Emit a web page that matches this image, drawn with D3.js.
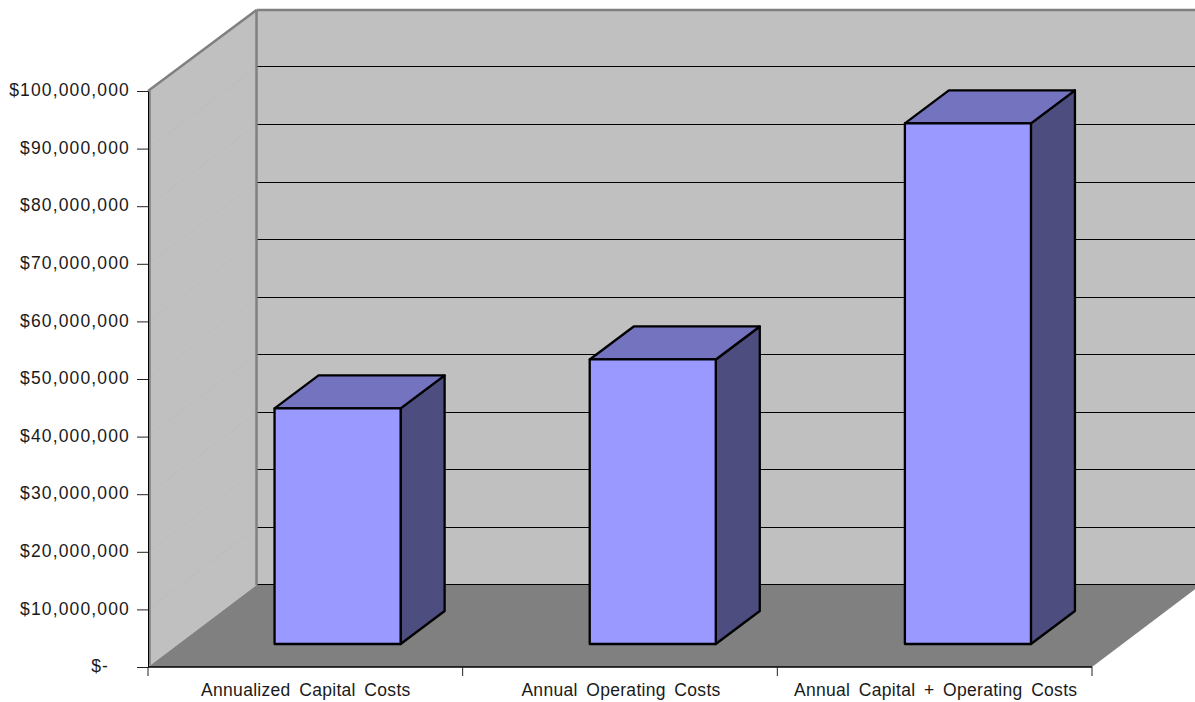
<!DOCTYPE html>
<html><head><meta charset="utf-8">
<style>html,body{margin:0;padding:0;background:#fff}svg{display:block}text{font-family:"Liberation Sans",Arial,sans-serif;font-size:17.5px;fill:#1a1a1a}</style>
<script src="https://cdnjs.cloudflare.com/ajax/libs/d3/7.8.5/d3.min.js"></script></head><body>
<div id="chart"></div>
<script>
const categories = ["Annualized Capital Costs","Annual Operating Costs","Annual Capital + Operating Costs"];
const costs = [40900000,49400000,90400000];
const yTicks = [0,10000000,20000000,30000000,40000000,50000000,60000000,70000000,80000000,90000000,100000000];
const W=1195,H=702;
const svg=d3.select("#chart").append("svg").attr("width",W).attr("height",H);
const y=d3.scaleLinear().domain([0,100000000]).range([667,91]);
const yBack=d3.scaleLinear().domain([0,100000000]).range([585,10]);
const x=d3.scaleBand().domain(categories).range([148,1093.5]).paddingInner(0.6).paddingOuter(0.3);
const wallDx=108.5,frontDx=32,frontDy=-23,depthDx=44,depthDy=-33;
const poly=(pts,fill)=>svg.append("polygon").attr("points",pts.map(p=>p.join(",")).join(" ")).attr("fill",fill);
const x0=148,x1=1092,yB=y(0),yT=y(100000000),bB=yBack(0),bT=yBack(100000000);
poly([[x0+wallDx,bT],[W+10,bT],[W+10,bB],[x0+wallDx,bB]],"#c0c0c0");
poly([[x0,yT],[x0+wallDx,bT],[x0+wallDx,bB],[x0,yB]],"#c0c0c0");
poly([[x0,yB],[x0+wallDx,bB],[x1+wallDx,bB],[x1,yB]],"#808080");
// faint wall gridlines
svg.append("g").selectAll("line").data(yTicks.slice(1,-1)).join("line")
  .attr("x1",x0).attr("x2",x0+wallDx).attr("y1",d=>y(d)).attr("y2",d=>yBack(d))
  .attr("stroke","#bcbcbc").attr("stroke-width",1);
// back gridlines
const snap=v=>Math.floor(v-0.5)+0.5;
svg.append("g").selectAll("line").data(yTicks.slice(0,-1)).join("line")
  .attr("x1",x0+wallDx).attr("x2",W).attr("y1",d=>snap(yBack(d))).attr("y2",d=>snap(yBack(d)))
  .attr("stroke","#000").attr("stroke-width",1);
// wall edges
const edge=(a,b,c,d)=>svg.append("line").attr("x1",a).attr("y1",b).attr("x2",c).attr("y2",d).attr("stroke","#808080").attr("stroke-width",2.5);
edge(x0,yT,x0+wallDx,bT);
edge(x0+wallDx,bT,W,bT);
edge(x0+wallDx,bT,x0+wallDx,bB);
edge(x0+1.5,yT,x0+1.5,yB-2);
// bars
const g=svg.append("g").attr("stroke","#000").attr("stroke-width",2.3).attr("stroke-linejoin","round");
categories.forEach((c,i)=>{
  const l=x(c)+frontDx,r=l+x.bandwidth(),b=yB+frontDy,t=y(costs[i])+frontDy;
  const p=(pts,fill)=>g.append("polygon").attr("points",pts.map(q=>q.join(",")).join(" ")).attr("fill",fill);
  p([[r,t],[r+depthDx,t+depthDy],[r+depthDx,b+depthDy],[r,b]],"#4d4d80");
  p([[l,t],[l+depthDx,t+depthDy],[r+depthDx,t+depthDy],[r,t]],"#7373bf");
  p([[l,t],[r,t],[r,b],[l,b]],"#9999ff");
});
// axes
const yAxis=d3.axisLeft(y).tickValues(yTicks).tickSize(11).tickSizeOuter(0).tickPadding(7)
  .tickFormat(d=>d===0?"$-":"$"+d3.format(",")(d));
const ya=svg.append("g").attr("transform",`translate(${x0},0)`).call(yAxis);
ya.selectAll("text").attr("y",-1).style("letter-spacing","1.15px");
ya.select(".domain").attr("stroke","#000");
ya.selectAll(".tick line").attr("stroke","#222");
ya.selectAll(".tick").filter(d=>d===0).select("text").attr("dx",-21);
const xl=d3.scaleLinear().domain([0,3]).range([x0,x1]);
const xa=svg.append("g").attr("transform",`translate(0,${yB})`);
xa.append("line").attr("x1",x0).attr("x2",x1).attr("stroke","#000").attr("stroke-width",1.5);
xa.selectAll(".t").data(d3.range(4)).join("line").attr("class","t").attr("x1",d=>xl(d)).attr("x2",d=>xl(d)).attr("y1",0).attr("y2",9).attr("stroke","#222");
xa.selectAll("text").data(categories).join("text").attr("x",(d,i)=>xl(i+.5)+(i?1:0.5)).attr("y",29).attr("text-anchor","middle").style("letter-spacing","0.3px").style("word-spacing","3.4px").text(d=>d);
</script></body></html>
